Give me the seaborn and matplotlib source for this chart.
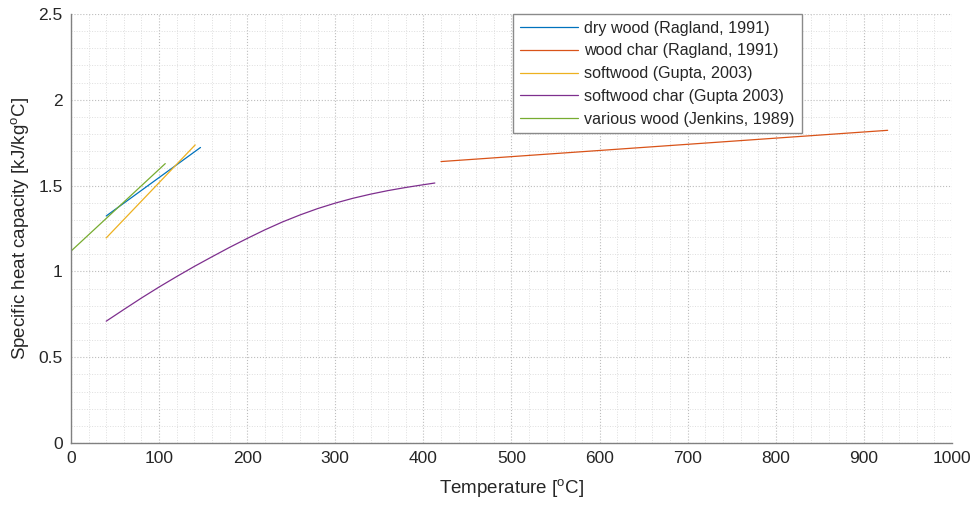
import numpy as np
import pandas as pd
import matplotlib
matplotlib.use("Agg")
import matplotlib.pyplot as plt
import seaborn as sns
from matplotlib.ticker import MultipleLocator

# ---- data ----
series_names = [
    "dry wood (Ragland, 1991)",
    "wood char (Ragland, 1991)",
    "softwood (Gupta, 2003)",
    "softwood char (Gupta 2003)",
    "various wood (Jenkins, 1989)",
]
dry_wood_T = [40, 147]
dry_wood_cp = [1.323, 1.722]
wood_char_T = [420, 927]
wood_char_cp = [1.640, 1.822]
softwood_T = [40, 141]
softwood_cp = [1.195, 1.737]
softwood_char_T = [40, 60, 80, 100, 120, 140, 160, 180, 200, 220,
                   240, 260, 280, 300, 320, 340, 360, 380, 400, 413]
softwood_char_cp = [0.710, 0.778, 0.845, 0.909, 0.970, 1.029, 1.085, 1.140, 1.192, 1.242,
                    1.288, 1.329, 1.366, 1.398, 1.426, 1.450, 1.471, 1.489, 1.505, 1.515]
various_T = [0, 107]
various_cp = [1.118, 1.628]

colors = ["#0072BD", "#D95319", "#EDB120", "#7E2F8E", "#77AC30"]

frames = []
for name, T, cp in zip(series_names,
                       [dry_wood_T, wood_char_T, softwood_T, softwood_char_T, various_T],
                       [dry_wood_cp, wood_char_cp, softwood_cp, softwood_char_cp, various_cp]):
    frames.append(pd.DataFrame({"T": T, "cp": cp, "series": name}))
df = pd.concat(frames, ignore_index=True)

sns.set_theme(style="white")
plt.rcParams["font.family"] = ["Liberation Sans", "DejaVu Sans"]
plt.rcParams["mathtext.fontset"] = "custom"
plt.rcParams["mathtext.rm"] = "Liberation Sans"
plt.rcParams["mathtext.it"] = "Liberation Sans:italic"

fig = plt.figure(figsize=(9.75, 5.11), dpi=100)
ax = fig.add_axes([0.0728, 0.133, 0.9036, 0.8397])

sns.lineplot(data=df, x="T", y="cp", hue="series", hue_order=series_names,
             palette=colors, sort=False, estimator=None, linewidth=0.9, ax=ax)

ax.set_xlim(0, 1000)
ax.set_ylim(0, 2.5)
ax.xaxis.set_major_locator(MultipleLocator(100))
ax.xaxis.set_minor_locator(MultipleLocator(20))
ax.yaxis.set_major_locator(MultipleLocator(0.5))
ax.yaxis.set_minor_locator(MultipleLocator(0.1))
ax.set_yticks([0, 0.5, 1, 1.5, 2, 2.5])
ax.set_yticklabels(["0", "0.5", "1", "1.5", "2", "2.5"])

ax.grid(which="major", linestyle=":", color="#bdbdbd", linewidth=0.8)
ax.grid(which="minor", linestyle=":", color="#dedede", linewidth=0.7)
ax.set_axisbelow(True)

for s in ["top", "right"]:
    ax.spines[s].set_visible(False)
for s in ["left", "bottom"]:
    ax.spines[s].set_color("#808080")
    ax.spines[s].set_linewidth(1.0)

ax.tick_params(which="major", direction="in", length=5, width=0.8, color="#606060",
               labelsize=12.5, labelcolor="#262626", pad=6)
ax.tick_params(which="minor", length=0)

ax.set_xlabel(r"Temperature [$^{\mathrm{o}}$C]", fontsize=13.5, color="#262626", labelpad=8)
ax.set_ylabel(r"Specific heat capacity [kJ/kg$^{\mathrm{o}}$C]", fontsize=13.5,
              color="#262626", labelpad=5)

leg = ax.legend(loc="upper left", bbox_to_anchor=(0.502, 1.0), fontsize=11.6,
                frameon=True, fancybox=False, edgecolor="#8a8a8a", framealpha=1.0,
                handlelength=3.6, handletextpad=0.4, borderpad=0.42, labelspacing=0.48,
                borderaxespad=0.0)
leg.get_frame().set_linewidth(1.0)
for t in leg.get_texts():
    t.set_color("#262626")

fig.savefig("out.png", dpi=100)
